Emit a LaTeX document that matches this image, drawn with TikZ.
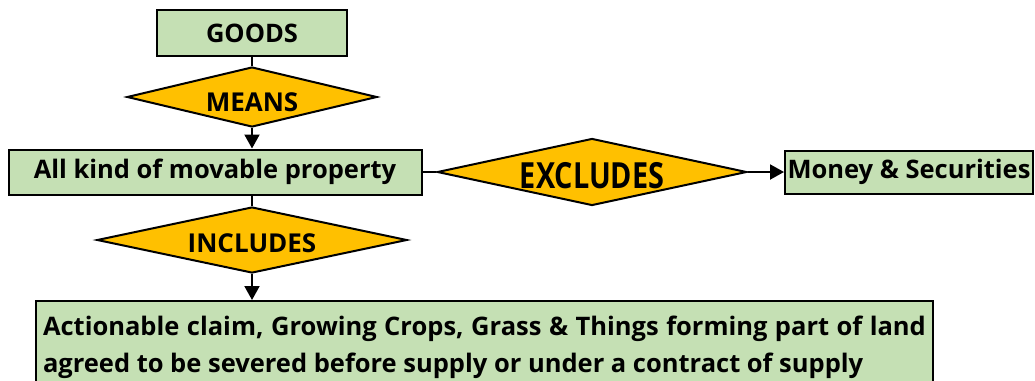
\documentclass[tikz,border=0pt]{standalone}
\usepackage{fontspec}
\setmainfont{Open Sans}
\newfontfamily\narrowfont[FakeStretch=0.8]{Open Sans}
\usetikzlibrary{arrows.meta, graphs, positioning, shapes.geometric}

\definecolor{boxgreen}{HTML}{C5E0B4}
\definecolor{gold}{HTML}{FFC000}

\tikzset{
    box/.style={draw, line width=2pt, fill=boxgreen, inner sep=0pt,
        font=\bfseries\fontsize{25.5}{30}\selectfont},
    choice/.style={diamond, draw, line width=2pt, fill=gold, aspect=5,
        inner sep=0pt, font=\bfseries\fontsize{26}{30}\selectfont},
}

\begin{document}
\begin{tikzpicture}[x=1pt, y=-1pt, line width=2pt,
    >={Triangle[length=14pt, width=15pt]}]
    \useasboundingbox (0,0) rectangle (1035,380);

    \node[box, minimum width=190pt, minimum height=46pt]              (Goods)    at (252,33)  {GOODS};
    \node[choice, minimum width=250pt, minimum height=60pt, text height=28.6pt] (Means) at (252,97) {MEANS};
    \node[box, minimum width=413pt, minimum height=45pt]              (Movable)  at (215,172) {All kind of movable property};

    \node[choice, minimum width=310pt, minimum height=66pt, text height=24.6pt] (Includes) at (252,240) {INCLUDES};
    \node[box, anchor=north west, text width=883pt, align=justify,
        inner xsep=7pt, minimum height=92pt,
        font=\bfseries\fontsize{25.5}{37}\selectfont]                 (Land)     at (35,300)
        {Actionable claim, Growing Crops, Grass \& Things forming part of land\linebreak
         agreed to be severed before supply or under a contract of supply};

    \node[choice, minimum width=305pt, minimum height=67pt, text height=32.7pt,
        font=\narrowfont\bfseries\fontsize{36}{40}\selectfont]        (Excludes) at (592,172) {EXCLUDES};
    \node[box, minimum width=248pt, minimum height=43pt]              (Money)    at (909,172) {Money \& Securities};

    \graph{
        (Goods) -- (Means);
        (Movable) -- (Excludes) -> (Money);
    };
    \draw[->] (Means.south) -- (Means.south |- Movable.north);
    \draw (Movable.south -| Includes.north) -- (Includes.north);
    \draw[->] (Includes.south) -- (Includes.south |- Land.north);
\end{tikzpicture}
\end{document}
